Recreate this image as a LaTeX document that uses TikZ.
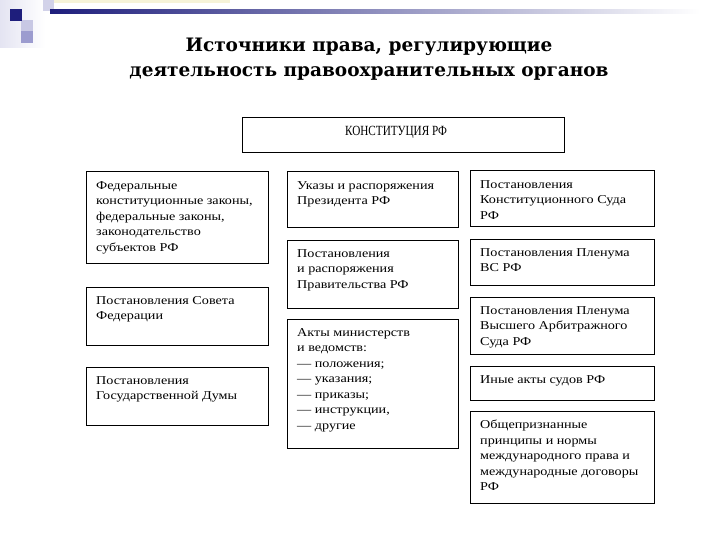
\documentclass[tikz,border=0pt]{standalone}
\usepackage{fontspec}
\setmainfont{Liberation Serif}[FakeStretch=1.18]
\newfontfamily\headfont{DejaVu Serif}
\newfontfamily\capsfont{Liberation Serif}[FakeStretch=0.8]
\usepackage{xcolor}
\usepackage{tikz}

\definecolor{slidenavy}{HTML}{1E1E7C}
\definecolor{slidelilac}{HTML}{9C9CCF}
\definecolor{slidepale}{HTML}{E4E4F2}
\definecolor{slidecream}{HTML}{F6F3D8}

\begin{document}
\begin{tikzpicture}[x=1pt,y=-1pt,
                    frame/.style={draw=black, line width=1pt},
                    entry/.style={anchor=north west, inner xsep=10pt, inner ysep=9pt,
                                  align=left, font=\fontsize{12}{15.5}\selectfont},
                    plain/.style={inner sep=2pt}]

  \useasboundingbox (0,0) rectangle (720,540);
  \fill[white] (0,0) rectangle (720,540);

  % slide decoration, top left
  \shade[left color=slidepale, right color=white] (0,0) rectangle (45,48);
  \fill[slidecream] (48,0) rectangle (230,3);
  \fill[slidelilac!45] (43,0) rectangle (54,11);
  \fill[slidelilac!55] (21,20) rectangle (33,32);
  \fill[slidenavy] (10,9) rectangle (22,21);
  \fill[slidelilac] (21,31) rectangle (33,43);
  \shade[left color=slidenavy, middle color=slidenavy!55, right color=white]
        (50,10) rectangle (700,14);

  \node[plain,align=center,font=\headfont\bfseries\fontsize{18.5}{25}\selectfont]
        (head) at (369,59)
        {Источники права, регулирующие\\ деятельность правоохранительных органов};

  \draw[frame] (242,118) rectangle (564,153);
  \node[plain,font=\capsfont\fontsize{14}{16}\selectfont] (konst) at (396,132)
        {КОНСТИТУЦИЯ РФ};

  % left column
  \draw[frame] (86,172) rectangle (268,263);
  \node[entry] (fedlaws) at (86,172)
        {Федеральные\\ конституционные законы,\\ федеральные законы,\\
         законодательство\\ субъектов РФ};
  \draw[frame] (86,287) rectangle (268,345);
  \node[entry] (sovfed) at (86,287) {Постановления Совета\\ Федерации};
  \draw[frame] (86,367) rectangle (268,425);
  \node[entry] (duma) at (86,367) {Постановления\\ Государственной Думы};

  % middle column
  \draw[frame] (287,172) rectangle (458,228);
  \node[entry] (ukaz) at (287,172) {Указы и распоряжения\\ Президента РФ};
  \draw[frame] (287,240) rectangle (458,308);
  \node[entry] (govt) at (287,240)
        {Постановления\\ и распоряжения\\ Правительства РФ};
  \draw[frame] (287,319) rectangle (458,448);
  \node[entry] (minist) at (287,319)
        {Акты министерств\\ и ведомств:\\ — положения;\\ — указания;\\
         — приказы;\\ — инструкции,\\ — другие};

  % right column
  \draw[frame] (470,171) rectangle (654,227);
  \node[entry] (ksrf) at (470,171)
        {Постановления\\ Конституционного Суда\\ РФ};
  \draw[frame] (470,239) rectangle (654,285);
  \node[entry] (vsrf) at (470,239) {Постановления Пленума\\ ВС РФ};
  \draw[frame] (470,297) rectangle (654,354);
  \node[entry] (vasrf) at (470,297)
        {Постановления Пленума\\ Высшего Арбитражного\\ Суда РФ};
  \draw[frame] (470,366) rectangle (654,400);
  \node[entry] (courts) at (470,366) {Иные акты судов РФ};
  \draw[frame] (470,411) rectangle (654,503);
  \node[entry] (intl) at (470,411)
        {Общепризнанные\\ принципы и нормы\\ международного права и\\
         международные договоры\\ РФ};
\end{tikzpicture}
\end{document}
